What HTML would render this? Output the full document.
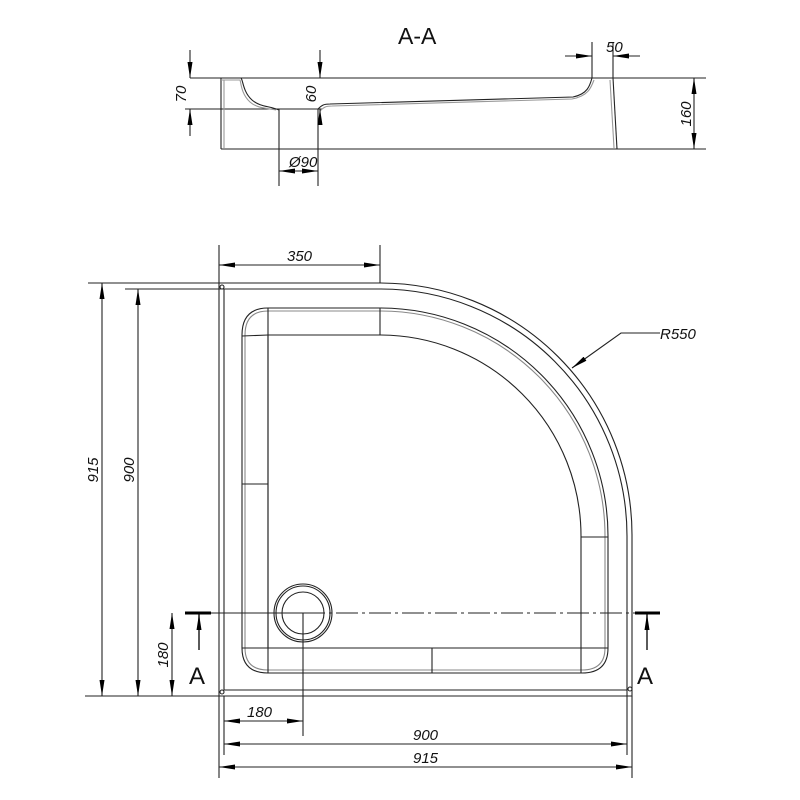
<!DOCTYPE html>
<html><head><meta charset="utf-8"><style>
html,body{margin:0;padding:0;background:#fff;width:800px;height:800px;overflow:hidden}
text{font-family:"Liberation Sans",sans-serif;font-style:italic;font-size:15px;fill:#111}
</style></head><body>
<svg width="800" height="800" viewBox="0 0 800 800" xmlns="http://www.w3.org/2000/svg">
<defs>
<marker id="a" viewBox="0 0 16 5" refX="16" refY="2.5" markerWidth="16" markerHeight="5" markerUnits="userSpaceOnUse" orient="auto-start-reverse" preserveAspectRatio="none"><path d="M0,0L16,2.5L0,5z" fill="#000"/></marker>
</defs>
<g fill="none" stroke="#222" stroke-width="1.1">
<!-- Section A-A -->
<line x1="190" y1="78" x2="706" y2="78"/>
<line x1="185" y1="109" x2="322" y2="109"/>
<line x1="221" y1="149" x2="706" y2="149"/>
<line x1="221" y1="78" x2="221" y2="149"/>
<line x1="224" y1="80" x2="224" y2="148" stroke="#999"/>
<path d="M221,78 H241 C243,80 243,92 252,100 C260,107 270,106 279,110"/>
<path d="M221,80 H240 C241,82 241,94 250,102 C258,109 268,108 276,110" stroke="#999"/>
<line x1="279" y1="109" x2="279" y2="186"/>
<line x1="318" y1="109" x2="318" y2="186"/>
<path d="M318,109 C322,105 324,104 330,104 L573,97 C588,94 590,85 592,78"/>
<path d="M320,111 C324,107 326,106 332,106 L572,99 C588,96 591,88 594,80" stroke="#999"/>
<line x1="592" y1="78" x2="613" y2="78"/>
<line x1="613" y1="78" x2="617" y2="149"/>
<line x1="610" y1="80" x2="614" y2="148" stroke="#999"/>
<line x1="592" y1="42" x2="592" y2="78"/>
<line x1="613" y1="42" x2="613" y2="78"/>
<line x1="565" y1="56" x2="592" y2="56" marker-end="url(#a)"/>
<line x1="640" y1="56" x2="613" y2="56" marker-end="url(#a)"/>
<line x1="190" y1="50" x2="190" y2="78" marker-end="url(#a)"/>
<line x1="190" y1="136" x2="190" y2="109" marker-end="url(#a)"/>
<line x1="320" y1="50" x2="320" y2="78" marker-end="url(#a)"/>
<line x1="320" y1="125" x2="320" y2="109" marker-end="url(#a)"/>
<line x1="694" y1="78" x2="694" y2="149" marker-start="url(#a)" marker-end="url(#a)"/>
<line x1="279" y1="171" x2="318" y2="171" marker-start="url(#a)" marker-end="url(#a)"/>

<!-- Plan outer -->
<path d="M219,283 H380 A252,252 0 0 1 632,535 V696 H219 Z"/>
<path d="M224,289 H380 A247,247 0 0 1 627,536 V690 H224 Z"/>
<circle cx="222" cy="287" r="2"/>
<circle cx="630" cy="689" r="2"/>
<circle cx="222" cy="692" r="2"/>
<!-- inner tray -->
<path d="M242,335 Q242,308 268,308 H380 A228,228 0 0 1 608,536 V648 Q608,673 582,673 H268 Q242,673 242,648 Z"/>
<path d="M245,335 Q245,311 268,311 H380 A225,225 0 0 1 605,536 V648 Q605,670 582,670 H268 Q245,670 245,648 Z" stroke="#888"/>
<path d="M268,335 H380 A201,201 0 0 1 581,536 V648 H268 Z"/>
<line x1="268" y1="308" x2="268" y2="673"/>
<line x1="242" y1="336" x2="268" y2="335"/>
<line x1="380" y1="308" x2="380" y2="335"/>
<line x1="242" y1="484" x2="268" y2="484"/>
<line x1="581" y1="537" x2="608" y2="537"/>
<line x1="581" y1="648" x2="581" y2="673"/>
<line x1="432" y1="648" x2="432" y2="673"/>
<line x1="242" y1="648" x2="268" y2="648"/>
<line x1="581" y1="648" x2="608" y2="648"/>
<!-- drain -->
<circle cx="303" cy="613" r="29"/>
<circle cx="303" cy="613" r="27"/>
<circle cx="303" cy="613" r="21"/>
<line x1="185" y1="613" x2="303" y2="613"/>
<line x1="303" y1="613" x2="660" y2="613" stroke-dasharray="22,4,3,4"/>
<line x1="303" y1="613" x2="303" y2="736"/>

<!-- dims -->
<line x1="219" y1="245" x2="219" y2="283"/>
<line x1="380" y1="245" x2="380" y2="283"/>
<line x1="219" y1="265" x2="380" y2="265" marker-start="url(#a)" marker-end="url(#a)"/>
<line x1="88" y1="283" x2="219" y2="283"/>
<line x1="125" y1="289" x2="224" y2="289"/>
<line x1="85" y1="696" x2="219" y2="696"/>
<line x1="102" y1="283" x2="102" y2="696" marker-start="url(#a)" marker-end="url(#a)"/>
<line x1="138" y1="289" x2="138" y2="696" marker-start="url(#a)" marker-end="url(#a)"/>
<line x1="172" y1="613" x2="172" y2="696" marker-start="url(#a)" marker-end="url(#a)"/>
<line x1="219" y1="696" x2="219" y2="778"/>
<line x1="224" y1="696" x2="224" y2="755"/>
<line x1="627" y1="690" x2="627" y2="755"/>
<line x1="632" y1="696" x2="632" y2="778"/>
<line x1="224" y1="721" x2="303" y2="721" marker-start="url(#a)" marker-end="url(#a)"/>
<line x1="224" y1="744" x2="627" y2="744" marker-start="url(#a)" marker-end="url(#a)"/>
<line x1="219" y1="767" x2="632" y2="767" marker-start="url(#a)" marker-end="url(#a)"/>
<!-- R550 leader -->
<polyline points="660,333 621,333 572,368" marker-end="url(#a)"/>
<!-- section markers -->
<line x1="199" y1="650" x2="199" y2="614" marker-end="url(#a)" stroke-width="1.5"/>
<line x1="647" y1="650" x2="647" y2="614" marker-end="url(#a)" stroke-width="1.5"/>
</g>
<line x1="185" y1="613" x2="211" y2="613" stroke="#000" stroke-width="3"/>
<line x1="635" y1="613" x2="660" y2="613" stroke="#000" stroke-width="3"/>

<text x="398" y="44" style="font-style:normal;font-size:23px">A-A</text>
<text x="606" y="52">50</text>
<text x="289" y="167">Ø90</text>
<text transform="translate(186,94) rotate(-90)" text-anchor="middle">70</text>
<text transform="translate(316,94) rotate(-90)" text-anchor="middle">60</text>
<text transform="translate(691,114) rotate(-90)" text-anchor="middle">160</text>
<text x="287" y="261">350</text>
<text x="660" y="339">R550</text>
<text transform="translate(98,470) rotate(-90)" text-anchor="middle">915</text>
<text transform="translate(134,470) rotate(-90)" text-anchor="middle">900</text>
<text transform="translate(168,655) rotate(-90)" text-anchor="middle">180</text>
<text x="247" y="717">180</text>
<text x="413" y="740">900</text>
<text x="413" y="763">915</text>
<text x="189" y="684" style="font-style:normal;font-size:24px">A</text>
<text x="637" y="684" style="font-style:normal;font-size:24px">A</text>
</svg>
</body></html>
